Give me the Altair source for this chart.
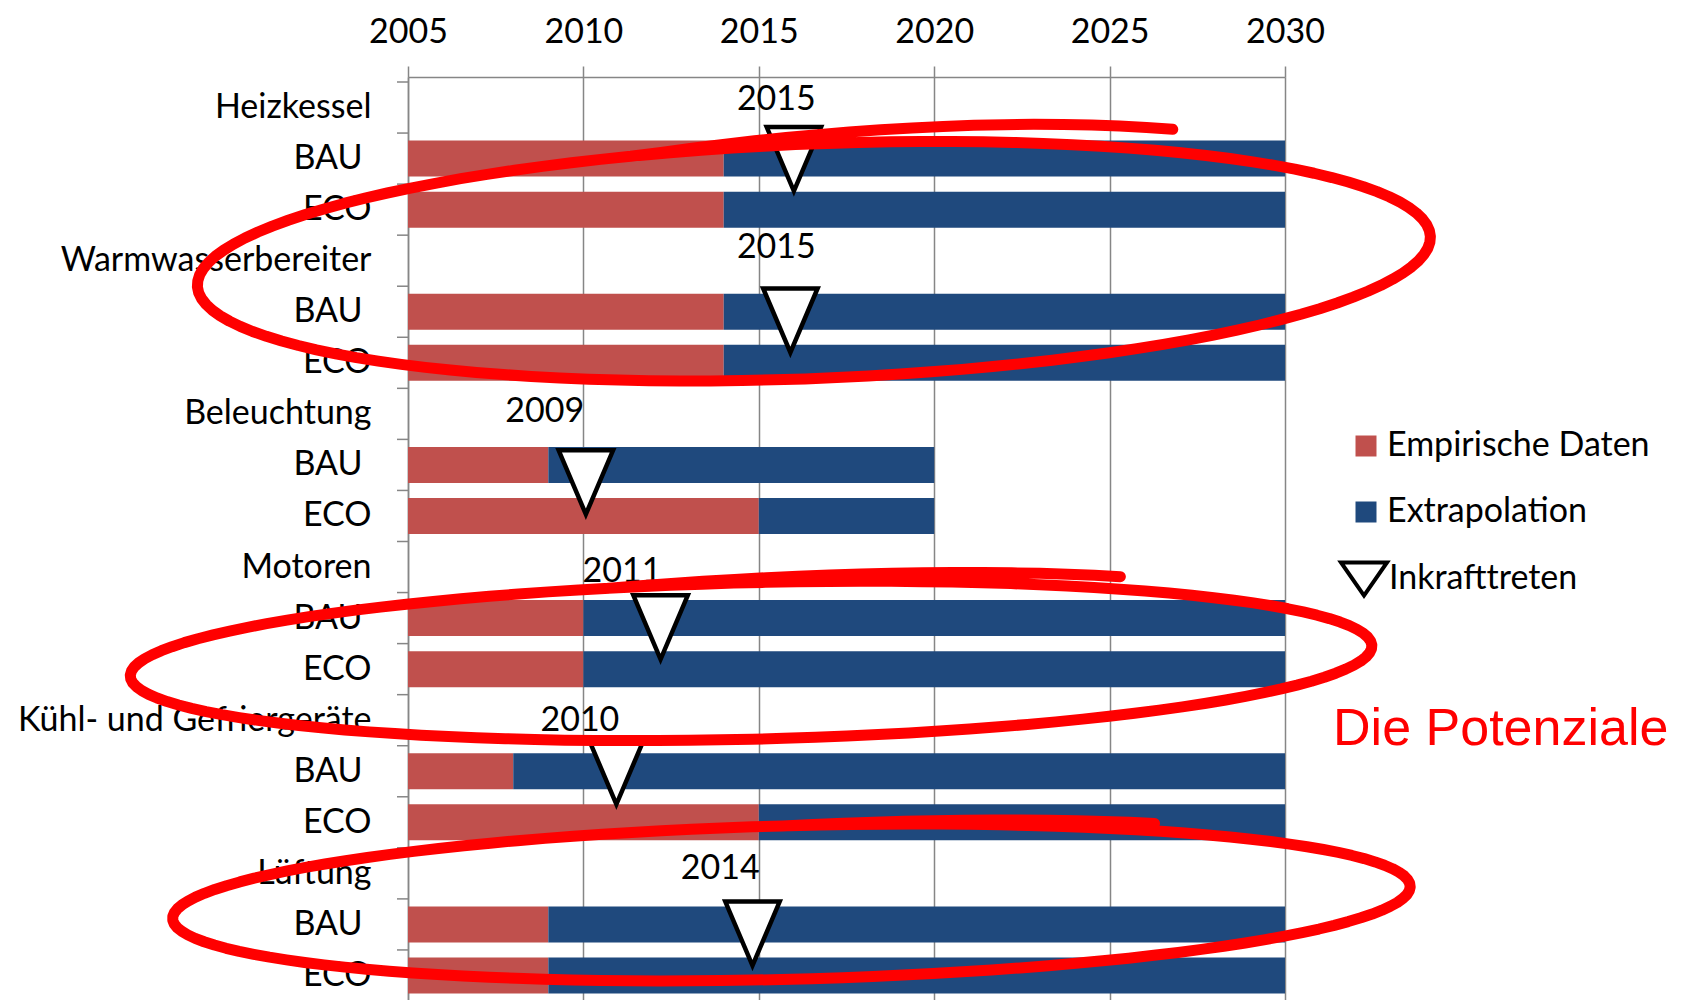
import json
import math
import altair as alt
import pandas as pd

# ---------------- data ----------------
groups = ["Heizkessel", "Warmwasserbereiter", "Beleuchtung", "Motoren",
          "Kühl- und Gefriergeräte", "Lüftung"]
scenarios = ["BAU", "ECO"]
series_names = ["Empirische Daten", "Extrapolation"]
start_year = 2005
# one value per (group, scenario) row, in order
empirical_end = [2014, 2014, 2014, 2014, 2009, 2015, 2010, 2010, 2008, 2015, 2009, 2009]
extrapolation_end = [2030, 2030, 2030, 2030, 2020, 2020, 2030, 2030, 2030, 2030, 2030, 2030]

# "Inkrafttreten" markers (x in years, y in row units from the top)
marker_x = [2016.0, 2015.9, 2010.07, 2012.2, 2010.94, 2014.82]
marker_row = [1.51, 4.67, 7.84, 10.68, 13.52, 16.68]
marker_label = ["2015", "2015", "2009", "2011", "2010", "2014"]
marker_label_x = [2015.5, 2015.5, 2008.9, 2011.1, 2009.9, 2013.9]
marker_label_row = [0.54, 3.45, 6.65, 9.79, 12.71, 15.62]

x_ticks = [2005, 2010, 2015, 2020, 2025, 2030]

# hand-drawn red annotations (centre in years / rows)
ellipse_x = [2016.57, 2014.78, 2015.93]
ellipse_row = [3.51, 11.34, 16.07]
note_text = ["Die Potenziale"]
note_x = [2031.37]
note_row = [12.98]

# ---------------- styling ----------------
RED = "#C0504D"
BLUE = "#1F497D"
GRID = "#868686"
FONT = "Lato"
FS = 34

row_names = []
for g in groups:
    row_names.append(g)
    row_names.extend(scenarios)
n_rows = len(row_names)

bar_records = []
i = 0
for gi, g in enumerate(groups):
    for si, s in enumerate(scenarios):
        r = gi * 3 + si + 1 + 0.5
        bar_records.append({"row": r, "start": start_year, "end": empirical_end[i], "typ": series_names[0]})
        bar_records.append({"row": r, "start": empirical_end[i], "end": extrapolation_end[i], "typ": series_names[1]})
        i += 1
bar_df = pd.DataFrame(bar_records)

tick_df = pd.DataFrame({"row": list(range(n_rows + 1))})
marker_df = pd.DataFrame({"x": marker_x, "row": marker_row, "lbl": ["Inkrafttreten"] * len(marker_x)})
label_df = pd.DataFrame({"x": marker_label_x, "row": marker_label_row, "text": marker_label})


def spiral(k, theta0, merge, lift, n=140):
    theta1 = 2 * math.pi + merge
    pts = []
    for j in range(n + 1):
        t = theta0 + (theta1 - theta0) * j / n
        fy = 1 + lift * (merge - t) / (merge - theta0) if t < merge else 1.0
        pts.append("%.4f,%.4f" % (math.cos(t), -k * fy * math.sin(t)))
    return "M" + "L".join(pts)


ellipse_shape = [spiral(0.19, 0.94, 1.85, 0.24), spiral(0.126, 0.93, 1.80, 0.2), spiral(0.124, 0.94, 1.57, 0.12)]
ellipse_size = [(2 * 617) ** 2, (2 * 621) ** 2, (2 * 619) ** 2]
ellipse_angle = [357.7, 358.6, 358.5]
ellipse_df = pd.DataFrame({"x": ellipse_x, "row": ellipse_row, "shp": ellipse_shape,
                           "sz": ellipse_size, "ang": ellipse_angle})
note_df = pd.DataFrame({"x": note_x, "row": note_row, "text": note_text})

x_scale = alt.Scale(domain=[2005, 2030], nice=False, zero=False)
row_scale = alt.Scale(domain=[0, n_rows], reverse=True, nice=False, zero=False)

x_axis = alt.Axis(orient="top", values=x_ticks, format="d", title=None, grid=True,
                  gridColor=GRID, gridWidth=1.5, tickSize=11, tickColor=GRID, tickWidth=1.5,
                  domainColor=GRID, domainWidth=1.5, labelPadding=17, labelFlush=False,
                  labelOverlap=False, labelFont=FONT, labelFontSize=FS, labelColor="black")

label_expr = json.dumps(row_names, ensure_ascii=False) + "[floor(datum.value)]"
y_axis = alt.Axis(title=None, values=[k + 0.5 for k in range(n_rows)], ticks=False, grid=False,
                  domainColor=GRID, domainWidth=1.5,
                  labelPadding={"condition": {"test": "floor(datum.value) % 3 == 1", "value": 46},
                                "value": 37},
                  labelLimit=600, labelOverlap=False, labelFlush=False, labelFont=FONT,
                  labelFontSize=FS, labelColor="black", labelExpr=label_expr)

bars = alt.Chart(bar_df).mark_bar(size=36).encode(
    x=alt.X("start:Q", scale=x_scale, axis=x_axis),
    x2="end:Q",
    y=alt.Y("row:Q", scale=row_scale, axis=y_axis),
    color=alt.Color("typ:N", scale=alt.Scale(domain=series_names, range=[RED, BLUE]),
                    legend=alt.Legend(title=None, orient="none", legendX=941, legendY=352,
                                      symbolType="square", symbolSize=441, symbolStrokeWidth=0,
                                      labelFont=FONT, labelFontSize=FS, labelColor="black",
                                      labelLimit=600, labelOffset=4, rowPadding=32, padding=0)),
)

ticks = alt.Chart(tick_df).mark_rule(color=GRID, strokeWidth=1.5).encode(
    x=alt.value(-11), x2=alt.value(0),
    y=alt.Y("row:Q", scale=row_scale),
)

tri_path = "M-0.85,-1L0.85,-1L0,1Z"
legend_tri = "M-1,-0.72L1,-0.72L0,0.72Z"

markers = alt.Chart(marker_df).mark_point(shape=tri_path, size=4096, filled=True, fill="white",
                                           strokeWidth=4.5, opacity=1).encode(
    x=alt.X("x:Q", scale=x_scale),
    y=alt.Y("row:Q", scale=row_scale),
    stroke=alt.Stroke("lbl:N", scale=alt.Scale(domain=["Inkrafttreten"], range=["black"]),
                      legend=alt.Legend(title=None, orient="none", legendX=931, legendY=477,
                                        symbolType=legend_tri, symbolSize=2116, symbolStrokeWidth=4,
                                        symbolFillColor="white", labelFont=FONT, labelFontSize=FS,
                                        labelColor="black", labelLimit=600, labelOffset=0, padding=0)),
)

labels = alt.Chart(label_df).mark_text(font=FONT, fontSize=FS, color="black", align="center",
                                       baseline="alphabetic").encode(
    x=alt.X("x:Q", scale=x_scale),
    y=alt.Y("row:Q", scale=row_scale),
    text="text:N",
)

ellipses = alt.Chart(ellipse_df).mark_point(filled=False, color="#FF0000", strokeWidth=11, opacity=1,
                                             strokeCap="round", strokeJoin="round").encode(
    x=alt.X("x:Q", scale=x_scale),
    y=alt.Y("row:Q", scale=row_scale),
    shape=alt.Shape("shp:N", scale=None, legend=None),
    size=alt.Size("sz:Q", scale=None, legend=None),
    angle=alt.Angle("ang:Q", scale=None),
)

note = alt.Chart(note_df).mark_text(font="Liberation Sans", fontSize=52, color="#FF0000", align="left",
                                    baseline="alphabetic").encode(
    x=alt.X("x:Q", scale=x_scale),
    y=alt.Y("row:Q", scale=row_scale),
    text="text:N",
)

chart = alt.layer(bars, ticks, markers, labels, ellipses, note).properties(
    width=877, height=929,
    autosize=alt.AutoSizeParams(type="none"),
    padding={"left": 400, "top": 69, "right": 400, "bottom": 0},
    background="white",
).configure_view(stroke=None)

chart.save("out.html", embed_options={"renderer": "svg", "actions": False})
